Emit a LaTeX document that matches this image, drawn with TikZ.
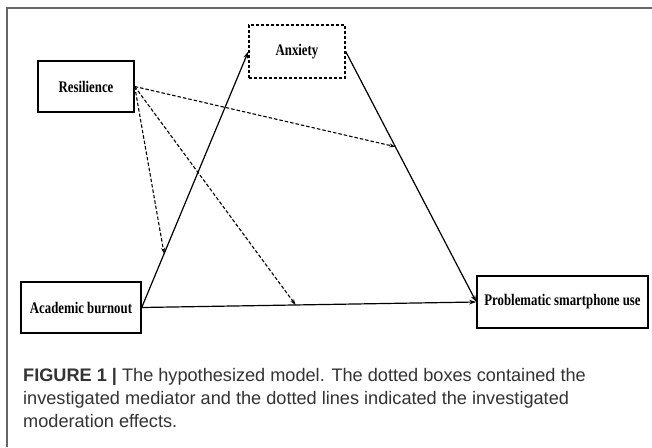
\documentclass[tikz,border=0pt]{standalone}
\usepackage{fontspec}
\setmainfont{Liberation Serif}
\newfontfamily\capfont{Liberation Sans}
\usetikzlibrary{calc,arrows.meta}
\newcommand{\boxtxt}[1]{\scalebox{0.79}[1]{#1}}
\tikzset{
  varbox/.style={draw, line width=1.4pt, minimum height=51pt, inner sep=0pt,
    font=\fontsize{16.2}{18}\selectfont\bfseries},
  medbox/.style={varbox, dash pattern=on 3pt off 2pt},
  path/.style={line width=1.2pt, -{Stealth[length=7pt,width=4.5pt]}},
  modpath/.style={line width=1.1pt, dash pattern=on 3.5pt off 2pt, -{Stealth[length=6pt,width=4pt]}},
  frame/.style={line width=1.6pt, draw=black!60}
}
\begin{document}
\begin{tikzpicture}[x=1pt,y=-1pt]
\useasboundingbox (0,0) rectangle (652,447);
\fill[white] (0,0) rectangle (652,447);
\draw[frame] (7,447) -- (7,8) -- (652,8);

\node[varbox, minimum width=96pt] (res) at (86,86.5) {\boxtxt{Resilience}};
\node[medbox, minimum width=96pt, minimum height=53pt] (anx) at (297,51.5) {\boxtxt{Anxiety}};
\node[varbox, minimum width=120pt] (ab) at (81,307.5) {\boxtxt{Academic burnout}};
\node[varbox, minimum width=171pt, minimum height=52pt] (psu) at (562.5,302) {\boxtxt{Problematic smartphone use}};

\draw[path] (ab.east) -- (anx.west);
\draw[path] (anx.east) -- (psu.west);
\draw[path] (ab.east) -- (psu.west);

\coordinate (m1) at ($(anx.east)!0.38!(psu.west)$);
\coordinate (m2) at ($(ab.east)!0.21!(anx.west)$);
\coordinate (m3) at ($(ab.east)!0.46!(psu.west)$);
\draw[modpath] (res.east) -- (m1);
\draw[modpath] (res.east) -- (m2);
\draw[modpath] (res.east) -- (m3);

\node[anchor=north west, align=left, inner sep=0pt,
  font=\capfont\fontsize{18.15}{23}\selectfont, text=black!80] (cap) at (23,368)
  {\textbf{FIGURE 1 |} The hypothesized model. The dotted boxes contained the\\
   investigated mediator and the dotted lines indicated the investigated\\
   moderation effects.};
\end{tikzpicture}
\end{document}
